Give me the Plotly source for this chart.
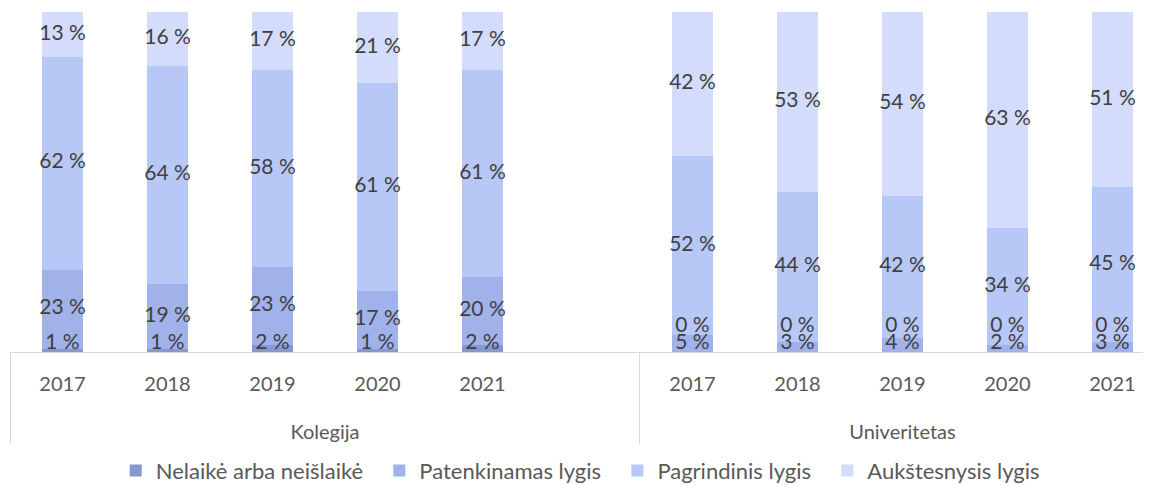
import plotly.graph_objects as go

groups = ["Kolegija"] * 6 + ["Univeritetas"] * 5
years = ["2017", "2018", "2019", "2020", "2021", " ", "2017", "2018", "2019", "2020", "2021"]

series_names = ["Nelaikė arba neišlaikė", "Patenkinamas lygis", "Pagrindinis lygis", "Aukštesnysis lygis"]
nelaike = [1, 1, 2, 1, 2, None, 0, 0, 0, 0, 0]
patenkinamas = [23, 19, 23, 17, 20, None, 5, 3, 4, 2, 3]
pagrindinis = [62, 64, 58, 61, 61, None, 52, 44, 42, 34, 45]
aukstesnysis = [13, 16, 17, 21, 17, None, 42, 53, 54, 63, 51]

colors = ["#8797cf", "#a1b1ea", "#b8c8f6", "#d3dcfb"]
font = "Lato"
label_col = "#404040"
axis_col = "#595959"

all_series = [nelaike, patenkinamas, pagrindinis, aukstesnysis]

# blank first line pushes the group names further below the years
group_ticks = ["<br><span style='font-size:20px'>" + g + "</span>" for g in groups]
year_ticks = ["<span style='font-size:20px'>" + y + "</span>" for y in years]

fig = go.Figure()
for name, vals, col in zip(series_names, all_series, colors):
    fig.add_trace(go.Bar(x=[group_ticks, year_ticks], y=vals, name=name + "\u00a0\u00a0",
                         marker=dict(color=col, line=dict(width=0)), hoverinfo="skip"))

# data labels, centred in each (normalised) segment; zero labels sit above the small bottom segments
zero_y = max(p for n, p in zip(nelaike, patenkinamas) if n == 0) + 2.5
lx0, lx1, ly, lt = [], [], [], []
for i in range(len(years)):
    col_vals = [s[i] for s in all_series]
    if col_vals[0] is None:
        continue
    total = sum(col_vals)
    cum = 0
    for v in col_vals:
        h = v / total * 100
        if v == 0:
            y = zero_y
        else:
            y = max(cum + h / 2, 2.4)
        cum += h
        lx0.append(group_ticks[i])
        lx1.append(year_ticks[i])
        ly.append(y)
        lt.append(f"{v} %")

fig.add_trace(go.Scatter(x=[lx0, lx1], y=ly, text=lt, mode="text", showlegend=False, hoverinfo="skip",
                         textfont=dict(family=font, size=21, color=label_col)))

fig.update_layout(
    barmode="stack", barnorm="percent", bargap=0.61,
    width=1143, height=477,
    margin=dict(l=2, r=0, t=4, b=133, autoexpand=False),
    paper_bgcolor="white", plot_bgcolor="white",
    font=dict(family=font, size=20, color=axis_col),
    legend=dict(orientation="h", x=0.505, xanchor="center", yref="container", y=0.03, yanchor="middle",
                bgcolor="rgba(0,0,0,0)",
                font=dict(family=font, size=22, color=axis_col), itemwidth=30, traceorder="normal"),
    showlegend=True,
)
fig.update_xaxes(type="multicategory", showline=True, linecolor="#d9d9d9", linewidth=1,
                 showdividers=True, dividercolor="#d9d9d9", dividerwidth=1,
                 ticklabelstandoff=9,
                 range=[-0.5, 10.367], tickfont=dict(family=font, size=24, color=axis_col),
                 showgrid=False, zeroline=False)
fig.update_yaxes(visible=False, range=[0, 100], showgrid=False)

fig.write_html("out.html")
